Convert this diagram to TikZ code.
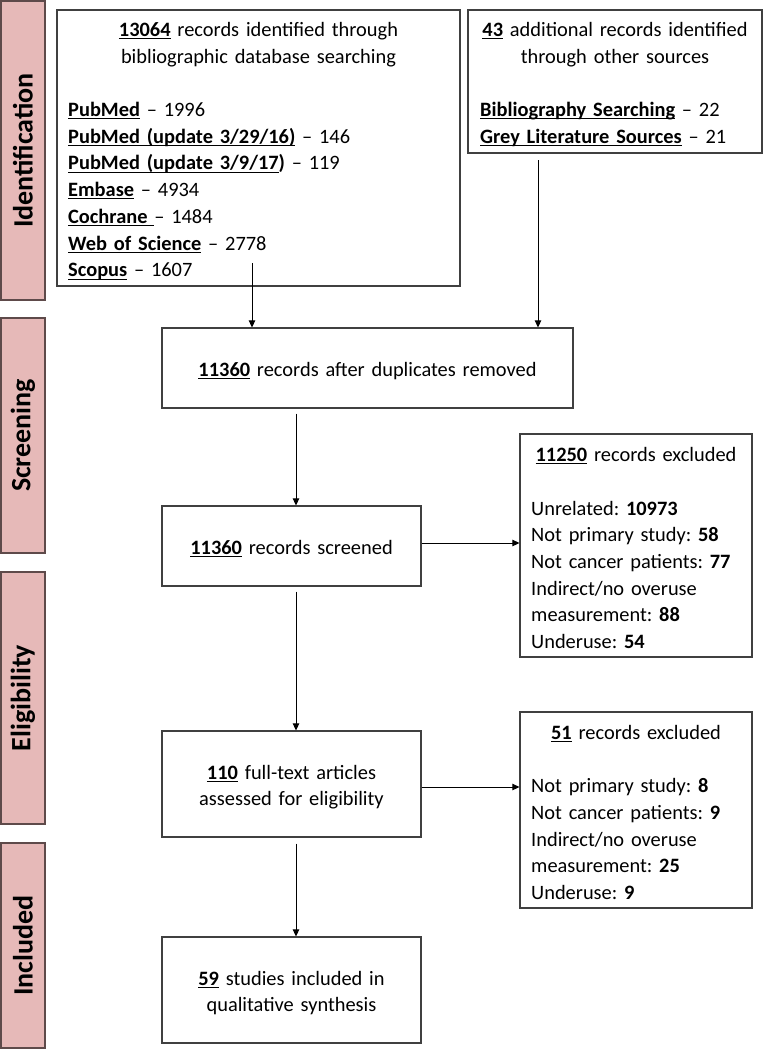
\documentclass[tikz,border=0pt]{standalone}
\usepackage{fontspec}
\setmainfont{Carlito}
\usetikzlibrary{arrows.meta,positioning,calc}
\definecolor{stagefill}{HTML}{E6B9B8}
\definecolor{stageedge}{HTML}{5E4A4A}
\definecolor{boxedge}{HTML}{404040}
\frenchspacing
\newsavebox{\ulsave}
\newcommand{\ulbox}[1]{\leavevmode\sbox{\ulsave}{#1}\rlap{\rule[-2.8pt]{\wd\ulsave}{1pt}}\usebox{\ulsave}}
\newcommand{\hl}[1]{\ulbox{\textbf{#1}}}

\begin{document}
\begin{tikzpicture}[
        x=1pt, y=-1pt,
        every node/.style={font=\fontsize{20.4}{26.7}\selectfont, inner sep=0pt},
        box/.style={draw=boxedge, line width=1.2pt, fill=white},
        stage/.style={draw=stageedge, fill=stagefill, line width=1.2pt, rotate=90,
                minimum height=44pt, font=\fontsize{28}{30}\selectfont\bfseries},
        head/.style={anchor=base, text width=#1, align=center},
        lst/.style={anchor=base west, text width=300pt, align=left},
        arr/.style={-{Triangle[length=7pt,width=6.5pt]}, line width=0.9pt}
    ]
    \useasboundingbox (0,0) rectangle (765,1050);

    % ================= phase bars =================================
    \node[stage, minimum width=299pt] (idstage)  at (23,150.5) {Identification};
    \node[stage, minimum width=235pt] (scrstage) at (23,435.5) {Screening};
    \node[stage, minimum width=252pt] (elstage)  at (23,698)   {Eligibility};
    \node[stage, minimum width=205pt] (instage)  at (23,945.5) {Included};

    % ================= identification ==============================
    \node[box, minimum width=403pt, minimum height=276pt] (idbox) at (258.5,148) {};
    \node[head=395pt] (idhead) at (258.5,36.5)
    {\hl{13064} records identified through\\bibliographic database searching};
    \node[lst] (idlist) at (68,116.5)
    {\hl{PubMed} -- 1996\\
        \hl{PubMed (update 3/29/16)} -- 146\\
        \hl{PubMed (update 3/9/17}\textbf{)} -- 119\\
        \hl{Embase} -- 4934\\
        \ulbox{\textbf{Cochrane}\ }-- 1484\\
        \hl{Web of Science} -- 2778\\
        \hl{Scopus} -- 1607};

    \node[box, minimum width=294pt, minimum height=143pt] (othbox) at (615,81.5) {};
    \node[head=290pt] (othhead) at (615,36.5)
    {\hl{43} additional records identified\\through other sources};
    \node[lst] (othlist) at (480,116.5)
    {\hl{Bibliography Searching} -- 22\\
        \hl{Grey Literature Sources} -- 21};

    % ================= screening ===================================
    \node[box, minimum width=411pt, minimum height=80pt] (dupbox) at (367.5,368) {};
    \node[head=405pt] (duptext) at (367.5,376.5) {\hl{11360} records after duplicates removed};

    \node[box, minimum width=259pt, minimum height=80pt] (scrbox) at (291.5,546) {};
    \node[head=255pt] (scrtext) at (291.5,554) {\hl{11360} records screened};

    \node[box, minimum width=232pt, minimum height=223pt] (excone) at (636,545.5) {};
    \node[head=228pt] (exconehead) at (636,461.5) {\hl{11250} records excluded};
    \node[lst] (exconelist) at (531,515)
    {Unrelated: \textbf{10973}\\
        Not primary study: \textbf{58}\\
        Not cancer patients: \textbf{77}\\
        Indirect/no overuse\\
        measurement: \textbf{88}\\
        Underuse: \textbf{54}};

    % ================= eligibility / included ======================
    \node[box, minimum width=259pt, minimum height=106pt] (ftbox) at (291.5,784) {};
    \node[head=255pt] (fttext) at (291.5,779)
    {\hl{110} full-text articles\\assessed for eligibility};

    \node[box, minimum width=232pt, minimum height=196pt] (exctwo) at (636,810) {};
    \node[head=228pt] (exctwohead) at (636,739) {\hl{51} records excluded};
    \node[lst] (exctwolist) at (531,792.7)
    {Not primary study: \textbf{8}\\
        Not cancer patients: \textbf{9}\\
        Indirect/no overuse\\
        measurement: \textbf{25}\\
        Underuse: \textbf{9}};

    \node[box, minimum width=259pt, minimum height=106pt] (incbox) at (291.5,990) {};
    \node[head=255pt] (inctext) at (291.5,985)
    {\hl{59} studies included in\\qualitative synthesis};

    % ================= connectors ==================================
    \coordinate (idtail) at (252,263);
    \coordinate (othtail) at (538,160);
    \coordinate (col) at (296,0);
    \draw[arr] (idtail) -- (idtail |- dupbox.north);
    \draw[arr] (othtail) -- (othtail |- dupbox.north);
    \draw[arr] ([yshift=-5pt]dupbox.south -| col) -- (scrbox.north -| col);
    \draw[arr] ([yshift=-5pt]scrbox.south -| col) -- (ftbox.north -| col);
    \draw[arr] ([yshift=-6pt]ftbox.south -| col) -- (incbox.north -| col);
    \draw[arr] ([yshift=3pt]scrbox.east) -- ([yshift=3pt]scrbox.east -| excone.west);
    \draw[arr] ([yshift=-3pt]ftbox.east) -- ([yshift=-3pt]ftbox.east -| exctwo.west);
\end{tikzpicture}
\end{document}
